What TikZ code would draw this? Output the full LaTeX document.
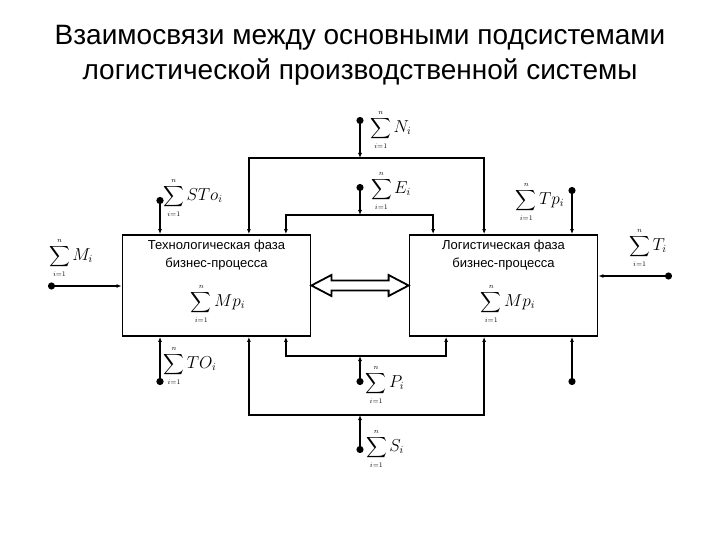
\documentclass[tikz,border=0pt]{standalone}
\usepackage[no-math]{fontspec}
\setmainfont{Liberation Sans}
\usepackage{amsmath}
\usetikzlibrary{arrows.meta, positioning, calc}
\newcommand{\sumof}[1]{$\displaystyle\sum_{\scriptscriptstyle i=1}^{\scriptscriptstyle n}$\,{\fontsize{16}{18}\selectfont$#1_i$}}

\begin{document}
\begin{tikzpicture}[x=1pt, y=-1pt,
  phase/.style={rectangle, draw, line width=1.8pt, minimum width=188pt, minimum height=101pt, inner sep=0pt},
  phasetext/.style={align=center, font=\fontsize{13}{18}\selectfont, inner sep=0pt},
  sumlbl/.style={font=\fontsize{14.4}{16}\selectfont, inner sep=0pt},
  bus/.style={line width=1.8pt, {Latex[length=5pt,width=4pt]}-{Latex[length=5pt,width=4pt]}},
  feed/.style={line width=1.8pt, {Circle[length=7pt]}-{Latex[length=5pt,width=4pt]}},
  heavyfeed/.style={feed, line width=2.6pt},
  hollow/.style={draw, line width=1.8pt, line join=miter}
]
\useasboundingbox (0,0) rectangle (720,540);
\node[font=\fontsize{28}{35}\selectfont, align=center] (title) at (360,55) {Взаимосвязи между основными подсистемами\\логистической производственной системы};
% Phases
\node[phase] (tech) at (216.5,285.5) {};
\node[phase] (logi) at (503.5,285.5) {};
\node[phasetext, below=6pt of tech.north] (techtxt) {Технологическая фаза\\бизнес-процесса};
\node[phasetext, below=6pt of logi.north] (logitxt) {Логистическая фаза\\бизнес-процесса};
\node[sumlbl] (techmp) at (218,304) {\sumof{Mp}};
\node[sumlbl] (logimp) at (508,304) {\sumof{Mp}};
\draw[hollow] (tech.east) -- ++(20,-10.5) -- ++(0,5.5) -- ($(logi.west)+(-20,-5)$) -- ++(0,-5.5) -- (logi.west)
  -- ++(-20,10.5) -- ++(0,-5.5) -- ($(tech.east)+(20,5)$) -- ++(0,5.5) -- cycle;
% Shared flows
\coordinate (ndot) at (360,117);
\coordinate (nbus) at (360,158);
\coordinate (edot) at (360,184);
\coordinate (ebus) at (360,215);
\coordinate (pbus) at (360,356);
\coordinate (pdot) at (360,385);
\coordinate (sbus) at (360,415);
\coordinate (sdot) at (360,453);
\draw[bus] ([xshift=-62.5pt]tech.north east) |- (nbus) -| ([xshift=75.5pt]logi.north west);
\draw[bus] ([xshift=-25.5pt]tech.north east) |- (ebus) -| ([xshift=24.5pt]logi.north west);
\draw[bus] ([xshift=-25.5pt]tech.south east) |- (pbus) -| ([xshift=37.5pt]logi.south west);
\draw[bus] ([xshift=-62.5pt]tech.south east) |- (sbus) -| ([xshift=75.5pt]logi.south west);
\draw[feed] (ndot) -- (nbus);
\draw[feed] (edot) -- (ebus);
\draw[feed] (pdot) -- (pbus);
\draw[feed] (sdot) -- (sbus);
% Own flows
\coordinate (stodot) at (160,197);
\coordinate (todot) at (160,385);
\coordinate (tpdot) at (572,187);
\coordinate (brdot) at (572,385);
\coordinate (tdot) at (672,276);
\coordinate (mdot) at (48,286);
\draw[heavyfeed] (stodot) -- (tech.north -| stodot);
\draw[heavyfeed] (todot) -- (tech.south -| todot);
\draw[feed] (tpdot) -- (logi.north -| tpdot);
\draw[feed] (brdot) -- (logi.south -| brdot);
\draw[feed] (tdot) -- (logi.east |- tdot);
\draw[feed] (mdot) -- (tech.west |- mdot);
% Labels
\node[sumlbl] (nlbl) at (391,130) {\sumof{N}};
\node[sumlbl] (elbl) at (391,191) {\sumof{E}};
\node[sumlbl] (plbl) at (385,385) {\sumof{P}};
\node[sumlbl] (slbl) at (385,449) {\sumof{S}};
\node[sumlbl] (stolbl) at (193,198) {\sumof{STo}};
\node[sumlbl] (tolbl) at (190,366) {\sumof{TO}};
\node[sumlbl] (tplbl) at (540,202) {\sumof{Tp}};
\node[sumlbl] (tlbl) at (648,248) {\sumof{T}};
\node[sumlbl] (mlbl) at (71,258) {\sumof{M}};
\end{tikzpicture}
\end{document}
